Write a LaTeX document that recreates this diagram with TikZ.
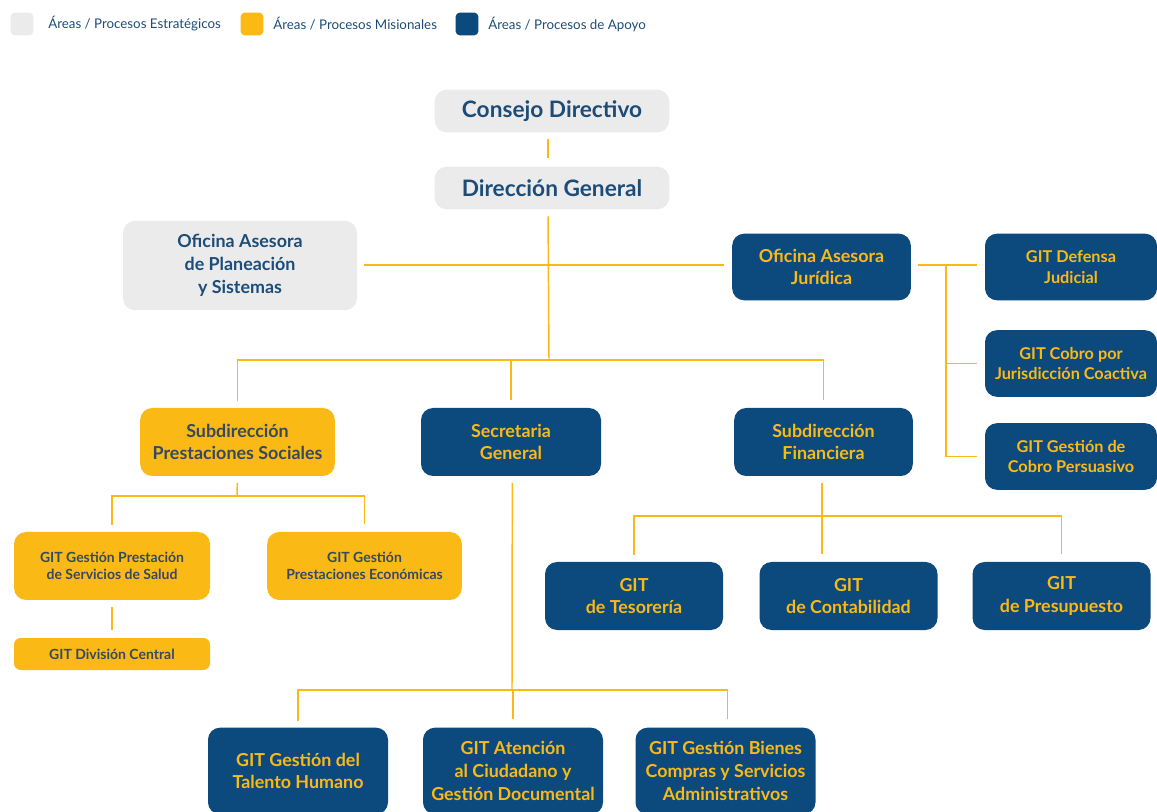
\documentclass[tikz,border=0pt]{standalone}
\usepackage{fontspec}
\setmainfont{Lato}
\usetikzlibrary{positioning}
\definecolor{grisEst}{HTML}{EBEBEC}
\definecolor{amarillo}{HTML}{FAB915}
\definecolor{azulApoyo}{HTML}{0C4A7E}
\definecolor{textoAzul}{HTML}{1C4C78}
\definecolor{textoOscuro}{HTML}{344A62}
\tikzset{
  box/.style={rounded corners=9pt, align=center, inner sep=2pt},
  estbox/.style={box, fill=grisEst, text=textoAzul},
  misbox/.style={box, fill=amarillo, text=textoOscuro},
  apobox/.style={box, fill=azulApoyo, text=amarillo},
  big/.style={font=\bfseries\fontsize{17}{20}\selectfont},
  mid/.style={font=\bfseries\fontsize{13.4}{17}\selectfont},
  midsmall/.style={font=\bfseries\fontsize{12.2}{15.5}\selectfont},
  small/.style={font=\bfseries\fontsize{10.5}{13}\selectfont},
  link/.style={draw=amarillo, line width=1.1pt, shorten <=5pt, shorten >=6pt},
  swatch/.style={rounded corners=3pt, minimum width=17pt, minimum height=17pt, inner sep=0pt},
  legtext/.style={anchor=west, inner sep=0pt, text=textoAzul, font=\fontsize{10}{12}\selectfont},
}

\begin{document}
\begin{tikzpicture}[x=0.75pt, y=-0.75pt]
  \useasboundingbox (0,0) rectangle (1157,812);

  % Legend
  \node[swatch, fill=grisEst] (sw1) at (22,24) {};
  \node[legtext] (lg1) at (48,24) {Áreas / Procesos Estratégicos};
  \node[swatch, fill=amarillo] (sw2) at (252,24) {};
  \node[legtext] (lg2) at (273,24) {Áreas / Procesos Misionales};
  \node[swatch, fill=azulApoyo] (sw3) at (467,24) {};
  \node[legtext] (lg3) at (488,24) {Áreas / Procesos de Apoyo};

  % Direction
  \node[estbox, big, minimum width=176pt, minimum height=32pt] (cd) at (552,111) {Consejo Directivo};
  \node[estbox, big, minimum width=176pt, minimum height=32pt] (dg) at (552,188) {Dirección General};
  \node[estbox, mid, minimum width=175.5pt, minimum height=67pt] (ofp) at (240,265.5) {Oficina Asesora\\de Planeación\\y Sistemas};
  \node[apobox, mid, minimum width=134pt, minimum height=50pt] (ofj) at (821.5,267) {Oficina Asesora\\Jurídica};

  % Juridica groups
  \node[apobox, midsmall, minimum width=129pt, minimum height=50pt] (def) at (1071,267) {GIT Defensa\\Judicial};
  \node[apobox, midsmall, minimum width=129pt, minimum height=50pt] (cob) at (1071,363.5) {GIT Cobro por\\Jurisdicción Coactiva};
  \node[apobox, midsmall, minimum width=129pt, minimum height=50pt] (per) at (1071,456.5) {GIT Gestión de\\Cobro Persuasivo};

  % Subdirections
  \node[misbox, mid, minimum width=146pt, minimum height=51pt] (sps) at (237.5,442) {Subdirección\\Prestaciones Sociales};
  \node[apobox, mid, minimum width=135pt, minimum height=51pt] (sg) at (511,442) {Secretaria\\General};
  \node[apobox, mid, minimum width=134pt, minimum height=51pt] (sf) at (823.5,442) {Subdirección\\Financiera};

  % Misional groups
  \node[misbox, small, minimum width=147pt, minimum height=51pt] (gss) at (112,566) {GIT Gestión Prestación\\de Servicios de Salud};
  \node[misbox, small, minimum width=146pt, minimum height=51pt] (gpe) at (364.5,566) {GIT Gestión\\Prestaciones Económicas};
  \node[misbox, small, rounded corners=5pt, minimum width=147pt, minimum height=24pt] (gdc) at (112,654) {GIT División Central};

  % Financial groups
  \node[apobox, mid, minimum width=133.5pt, minimum height=51pt] (tes) at (634,596) {GIT\\de Tesorería};
  \node[apobox, mid, minimum width=133.5pt, minimum height=51pt] (con) at (848.5,596) {GIT\\de Contabilidad};
  \node[apobox, mid, minimum width=133.5pt, minimum height=51pt] (pre) at (1061.5,596) {GIT\\de Presupuesto};

  % General secretary groups
  \node[apobox, mid, minimum width=135pt, minimum height=65pt] (gth) at (298,771) {GIT Gestión del\\Talento Humano};
  \node[apobox, mid, minimum width=135pt, minimum height=65pt] (atc) at (513,771) {GIT Atención\\al Ciudadano y\\Gestión Documental};
  \node[apobox, mid, minimum width=135pt, minimum height=65pt] (gbs) at (725.5,771) {GIT Gestión Bienes\\Compras y Servicios\\Administrativos};

  % Junctions
  \coordinate (hub) at (549,360);
  \coordinate (spsbar) at (237,496);
  \coordinate (sfbar) at (823,516);
  \coordinate (sgbar) at (512,690);
  \coordinate (jx) at (946,265);

  % Connectors
  \draw[link] ([xshift=-3]cd.south) -- ([xshift=-3]dg.north);
  \draw[link, shorten >=0pt] ([xshift=-3]dg.south) -- (hub);
  \draw[link] (ofp.east |- 0,265) -- (ofj.west |- 0,265);
  \draw[link] (sps.north) -- (sps.north |- hub) -- (sf.north |- hub) -- (sf.north);
  \draw[link, shorten <=0pt] (sg.north |- hub) -- (sg.north);

  \draw[link, shorten >=0pt] (sps.south) -- (spsbar);
  \draw[link] (gss.north) -- (gss.north |- spsbar) -- (gpe.north |- spsbar) -- (gpe.north);
  \draw[link] (gss.south) -- (gdc.north);

  \draw[link] ([xshift=-1]sf.south) -- ([xshift=-1]sf.south |- con.north);
  \draw[link] (tes.north) -- (tes.north |- sfbar) -- (pre.north |- sfbar) -- (pre.north);

  \draw[link, shorten >=0pt] ([xshift=1]sg.south) -- (sgbar);
  \draw[link] (gth.north) -- (gth.north |- sgbar) -- ([xshift=1.5]gbs.north |- sgbar) -- ([xshift=1.5]gbs.north);
  \draw[link, shorten <=0pt] (atc.north |- sgbar) -- (atc.north);

  \draw[link] (ofj.east |- jx) -- (def.west |- jx);
  \draw[link, shorten <=0pt] (jx) |- (per.west);
  \draw[link, shorten <=0pt] (jx |- cob.west) -- (cob.west);
\end{tikzpicture}
\end{document}
